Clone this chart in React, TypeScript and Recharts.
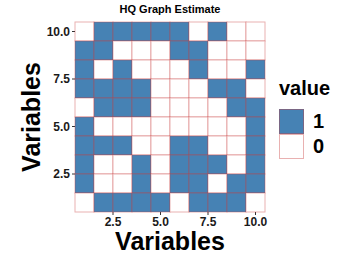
import React from "react";
import { ScatterChart, Scatter, XAxis, YAxis } from "recharts";

// rows from top (y = 10) to bottom (y = 1), columns x = 1..10
const yLevels = [10, 9, 8, 7, 6, 5, 4, 3, 2, 1];
const xLevels = [1, 2, 3, 4, 5, 6, 7, 8, 9, 10];
const row10 = [0, 1, 1, 1, 1, 1, 0, 1, 0, 0];
const row9 = [1, 1, 0, 0, 0, 1, 1, 0, 0, 0];
const row8 = [1, 0, 1, 0, 0, 0, 1, 0, 0, 1];
const row7 = [1, 1, 1, 1, 0, 0, 0, 1, 1, 0];
const row6 = [0, 1, 1, 1, 0, 0, 0, 0, 1, 1];
const row5 = [1, 0, 0, 0, 0, 0, 0, 0, 0, 1];
const row4 = [1, 1, 1, 0, 0, 1, 1, 0, 0, 1];
const row3 = [1, 0, 0, 1, 0, 1, 1, 1, 0, 1];
const row2 = [1, 0, 0, 1, 0, 1, 1, 0, 1, 1];
const row1 = [0, 1, 1, 1, 1, 0, 1, 1, 1, 0];
const rows = [row10, row9, row8, row7, row6, row5, row4, row3, row2, row1];

const ticks = [2.5, 5, 7.5, 10];
const legendValues = [1, 0];

const cells = rows.flatMap((r, i) =>
  r.map((v, j) => ({ x: xLevels[j], y: yLevels[i], value: v }))
);

const W = 357;
const H = 261;
const margin = { top: 22, right: 92, bottom: 29, left: 35 };
const Y_AXIS_W = 40;
const X_AXIS_H = 20;
const plotW = W - margin.left - margin.right - Y_AXIS_W;
const plotH = H - margin.top - margin.bottom - X_AXIS_H;
const cellW = plotW / xLevels.length;
const cellH = plotH / yLevels.length;

const BLUE = "#4682b4";
const GRID = "rgba(200,60,60,0.4)";
const FONT = "'Liberation Sans', Arial, sans-serif";

const Cell = (props: any) => {
  const { cx, cy, payload } = props;
  return (
    <rect
      x={cx - cellW / 2}
      y={cy - cellH / 2}
      width={cellW}
      height={cellH}
      fill={payload.value === 1 ? BLUE : "#ffffff"}
      stroke={GRID}
      strokeWidth={1}
    />
  );
};

const LegendBox = () => (
  <div
    style={{
      position: "absolute",
      left: 279,
      top: 78,
      fontFamily: FONT,
      color: "#000",
    }}
  >
    <div style={{ fontSize: 20, fontWeight: 700, lineHeight: "20px" }}>value</div>
    <div style={{ marginTop: 11 }}>
      {legendValues.map((v) => (
        <div key={v} style={{ display: "flex", alignItems: "center", height: 25 }}>
          <div
            style={{
              width: 25,
              height: 25,
              boxSizing: "border-box",
              background: v === 1 ? BLUE : "#fff",
              border: `1px solid ${GRID}`,
            }}
          />
          <span style={{ fontSize: 20, fontWeight: 700, marginLeft: 9 }}>{v}</span>
        </div>
      ))}
    </div>
  </div>
);

export default function App() {
  const tickStyle = { fontSize: 12, fontWeight: 700, fill: "#1a1a1a", fontFamily: FONT };
  return (
    <div style={{ position: "absolute", left: 0, top: 0, width: W, height: H, background: "#fff" }}>
      <ScatterChart width={W} height={H} margin={margin}>
        <XAxis
          type="number"
          dataKey="x"
          domain={[0.5, 10.5]}
          ticks={ticks}
          tickFormatter={(v: number) => v.toFixed(1)}
          axisLine={false}
          tickSize={3}
          tickLine={{ stroke: "#333" }}
          tick={tickStyle}
          height={X_AXIS_H}
          interval={0}
        />
        <YAxis
          type="number"
          dataKey="y"
          domain={[0.5, 10.5]}
          ticks={ticks}
          tickFormatter={(v: number) => v.toFixed(1)}
          axisLine={false}
          tickSize={3}
          tickLine={{ stroke: "#333" }}
          tick={tickStyle}
          width={Y_AXIS_W}
          interval={0}
        />
        <Scatter data={cells} shape={Cell} isAnimationActive={false} />
      </ScatterChart>
      <LegendBox />
      <div
        style={{
          position: "absolute",
          left: 75,
          width: 190,
          top: 3,
          textAlign: "center",
          fontFamily: FONT,
          fontWeight: 700,
          fontSize: 11,
        }}
      >
        HQ Graph Estimate
      </div>
      <div
        style={{
          position: "absolute",
          left: 75,
          width: 190,
          top: 230,
          textAlign: "center",
          fontFamily: FONT,
          fontWeight: 700,
          fontSize: 25,
          lineHeight: "22px",
        }}
      >
        Variables
      </div>
      <div
        style={{
          position: "absolute",
          left: 31,
          top: 117,
          transform: "translate(-50%, -50%) rotate(-90deg)",
          fontFamily: FONT,
          fontWeight: 700,
          fontSize: 25,
          lineHeight: "28px",
          whiteSpace: "nowrap",
        }}
      >
        Variables
      </div>
    </div>
  );
}
